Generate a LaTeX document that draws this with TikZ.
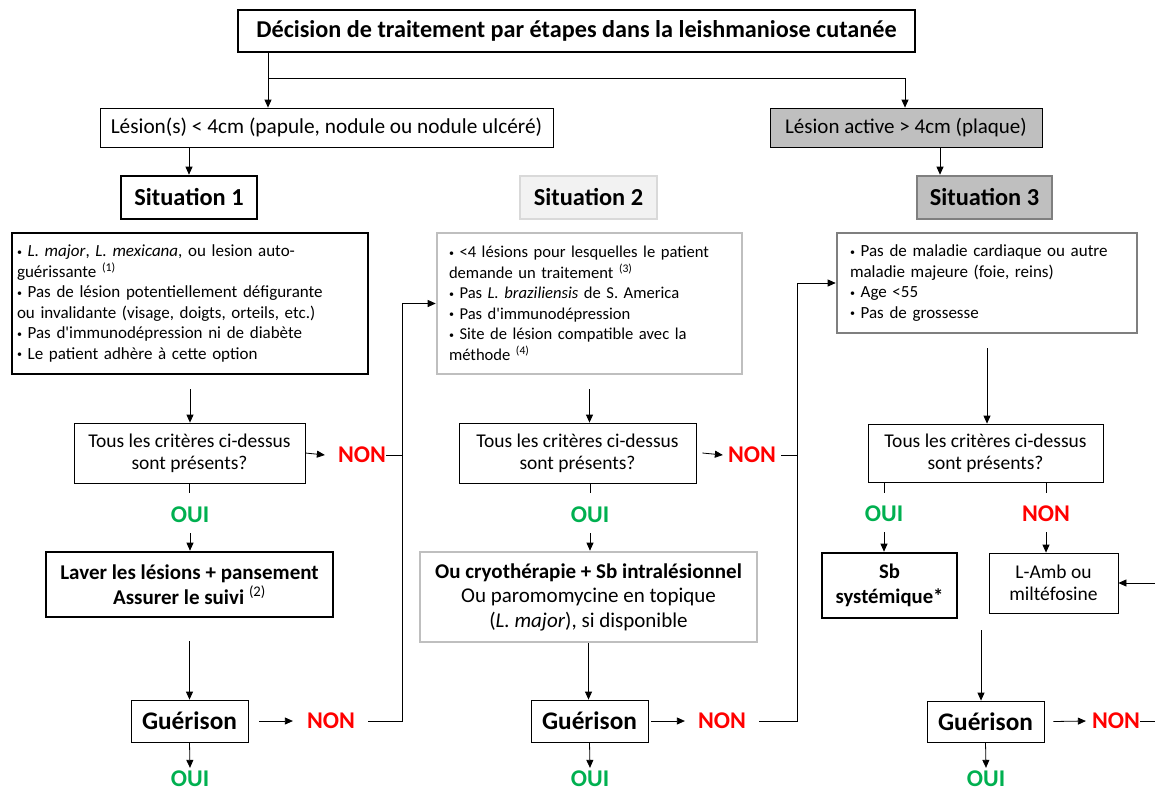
\documentclass[tikz,border=0pt]{standalone}
\usepackage{fontspec}
\setmainfont{Carlito}
\usetikzlibrary{arrows.meta}
\definecolor{ouig}{RGB}{0,176,80}
\definecolor{nonr}{RGB}{255,0,0}
\definecolor{gA}{RGB}{191,191,191}
\definecolor{gB}{RGB}{127,127,127}
\definecolor{gC}{RGB}{217,217,217}
\definecolor{gD}{RGB}{242,242,242}
\newcommand\fsz[2]{\fontsize{#1}{#2}\selectfont}
\newcommand\bul{{\fsz{10}{10}\raisebox{0.15em}{•}}\ }
\newcommand\sups[1]{\textsuperscript{\mdseries (#1)}}
\newcommand\ap{\textquotesingle}
\begin{document}
\begin{tikzpicture}[x=1pt,y=-1pt,
  arr/.style={-{Triangle[length=8pt,width=7pt]}, line width=0.8pt},
  ln/.style={line width=0.8pt},
  box/.style={draw, line width=0.8pt, inner sep=0pt, align=center},
  heavy/.style={line width=2.6pt},
  crit/.style={box, align=left, font=\fsz{17}{20.5}},
  dec/.style={box, font=\fsz{19.5}{22}},
  trt/.style={box, heavy, font=\fsz{21}{24.5}},
  gue/.style={box, font=\bfseries\fsz{25.3}{26}},
  sit/.style={box, heavy, font=\bfseries\fsz{24.4}{26}},
  oui/.style={inner sep=0pt, text=ouig, font=\bfseries\fsz{24}{26}},
  non/.style={inner sep=0pt, text=nonr, font=\bfseries\fsz{24}{26}}]
\useasboundingbox (0,0) rectangle (1155,792);
\fill[white] (0,0) rectangle (1155,792);

% top
\node[box, heavy, minimum width=677pt, minimum height=42pt, font=\bfseries\fsz{24.2}{26}] (title) at (576.5,31) {Décision de traitement par étapes dans la leishmaniose cutanée};
\node[box, minimum width=453pt, minimum height=39pt, font=\fsz{21.3}{24}] (lesA) at (326.5,127.5) {Lésion(s) < 4cm (papule, nodule ou nodule ulcéré)};
\node[box, fill=gA, minimum width=272pt, minimum height=39pt, font=\fsz{21}{24}] (lesB) at (906,127.5) {Lésion active > 4cm (plaque)};

\node[sit, minimum width=136pt, minimum height=43pt] (sit1) at (189,197.5) {Situation 1};
\node[sit, draw=gC, fill=gD, minimum width=137pt, minimum height=43pt] (sit2) at (588.5,197.5) {Situation 2};
\node[sit, draw=gB, fill=gA, minimum width=135pt, minimum height=43pt] (sit3) at (984.5,197.5) {Situation 3};

\coordinate (x268) at (268,0);
\coordinate (br) at (268,78);
\coordinate (x905) at (905,0);
\coordinate (x940) at (940,0);
\draw[arr] (title.south -| x268) -- (lesA.north -| x268);
\draw[arr] (br) -| (lesB.north -| x905);
\draw[arr] (lesA.south -| sit1.north) -- (sit1.north);
\draw[arr] (lesB.south -| x940) -- (sit3.north -| x940);

% criteria boxes
\node[crit, heavy, minimum width=356pt, minimum height=141pt, text width=346pt, inner xsep=5pt] (crit1) at (190,303.5) {\bul\textit{L. major}, \textit{L. mexicana}, ou lesion auto-\\guérissante \sups{1}\\\bul Pas de lésion potentiellement défigurante\\ou invalidante (visage, doigts, orteils, etc.)\\\bul Pas d\ap immunodépression ni de diabète\\\bul Le patient adhère à cette option};
\node[crit, heavy, draw=gA, font=\fsz{16.6}{20.5}, minimum width=305pt, minimum height=141pt, text width=281pt, inner xsep=12pt] (crit2) at (589.5,303.5) {\bul <4 lésions pour lesquelles le patient\\demande un traitement \sups{3}\\\bul Pas \textit{L. braziliensis} de S. America\\\bul Pas d\ap immunodépression\\\bul Site de lésion compatible avec la\\méthode \sups{4}};
\node[crit, heavy, draw=gB, minimum width=300pt, minimum height=100pt, text width=274pt, inner xsep=13pt] (crit3) at (987,283) {\bul Pas de maladie cardiaque ou autre\\maladie majeure (foie, reins)\\\bul Age <55\\\bul Pas de grossesse};

% decisions
\node[dec, minimum width=231pt, minimum height=60pt] (dec1) at (189.5,453) {Tous les critères ci-dessus\\sont présents?};
\node[dec, minimum width=237pt, minimum height=60pt] (dec2) at (577.5,453) {Tous les critères ci-dessus\\sont présents?};
\node[dec, minimum width=235pt, minimum height=58pt] (dec3) at (985.5,453) {Tous les critères ci-dessus\\sont présents?};

\draw[arr] ([yshift=-14pt]crit1.south) -- (crit1.south |- dec1.north);
\draw[arr] ([yshift=-14pt]crit2.south) -- (crit2.south |- dec2.north);
\draw[arr] ([yshift=-14pt]crit3.south) -- (crit3.south |- dec3.north);

% OUI / NON labels
\node[non] (non1) at (362,455) {NON};
\node[non] (non2) at (752,455) {NON};
\node[oui] (oui1) at (190,515) {OUI};
\node[oui] (oui2) at (590,515) {OUI};
\node[oui] (oui3) at (884,514) {OUI};
\node[non] (non3) at (1046,514) {NON};

% treatments
\node[trt, font=\bfseries\fsz{21}{24.5}, minimum width=287pt, minimum height=65pt] (trt1) at (189.5,584.5) {Laver les lésions + pansement\\Assurer le suivi \sups{2}};
\node[trt, draw=gA, minimum width=337pt, minimum height=90pt] (trt2) at (588.5,597) {\textbf{Ou cryothérapie + Sb intralésionnel}\\Ou paromomycine en topique\\(\textit{L. major}), si disponible};
\node[trt, font=\bfseries\fsz{20.7}{25}, minimum width=135pt, minimum height=65pt] (sb) at (889.5,585.5) {Sb\\systémique*};
\node[box, font=\fsz{19.5}{22}, minimum width=129pt, minimum height=60pt] (lamb) at (1053.5,583) {L-Amb ou\\miltéfosine};

\draw[ln] (dec1.south) -- ++(0,10);
\draw[arr] ([yshift=-10pt]oui1.south) -- (oui1 |- trt1.north);
\draw[ln] (dec2.south -| oui2) -- ++(0,10);
\draw[arr] ([yshift=-10pt]oui2.south) -- (oui2 |- trt2.north);
\draw[ln] (dec3.south -| oui3) -- ++(0,11);
\draw[arr] ([yshift=-10pt]oui3.south) -- (oui3 |- sb.north);
\draw[ln] (dec3.south -| non3) -- ++(0,11);
\draw[arr] ([yshift=-10pt]non3.south) -- (non3 |- lamb.north);

% guerison
\node[gue, minimum width=117pt, minimum height=42pt] (gue1) at (189.5,721) {Guérison};
\node[gue, minimum width=117pt, minimum height=42pt] (gue2) at (589.5,721) {Guérison};
\node[gue, minimum width=117pt, minimum height=41pt] (gue3) at (985.5,721.5) {Guérison};

\draw[arr] ([yshift=-23pt]trt1.south) -- (gue1.north);
\draw[arr] (trt2.south) -- (trt2.south |- gue2.north);
\coordinate (m3) at (981,630);
\draw[arr] (m3) -- (m3 |- gue3.north);

\node[non] (ng1) at (331,721) {NON};
\node[non] (ng2) at (722,721) {NON};
\node[non] (ng3) at (1116,721) {NON};
\node[oui] (ob1) at (190,779) {OUI};
\node[oui] (ob2) at (590,779) {OUI};
\node[oui] (ob3) at (986,779) {OUI};

\draw[arr] ([xshift=11pt]gue1.east) -- ([xshift=-14pt]ng1.west);
\draw[arr] ([xshift=3pt]gue2.east) -- ([xshift=-13pt]ng2.west);
\draw[arr] ([xshift=9pt]gue3.east) -- ([xshift=-6pt]ng3.west);
\draw[arr] (gue1.south) -- ([yshift=3pt]ob1.north);
\draw[arr] (gue2.south) -- ([yshift=3pt]ob2.north);
\draw[arr] (gue3.south) -- ([yshift=3pt]ob3.north);

% decision NON arrows
\draw[arr] (dec1.east) -- ([xshift=-13pt]non1.west);
\draw[arr] ([xshift=6pt]dec2.east) -- ([xshift=-5pt]non2.west);

% loop-back lines
\coordinate (v1) at (402,0);
\coordinate (v2) at (797,0);
\draw[ln] (non1.east) -- (non1.east -| v1);
\draw[arr] ([xshift=13pt]ng1.east) -- (ng1.east -| v1) -- (v1 |- crit2.west) -- (crit2.west);
\draw[ln] ([xshift=5pt]non2.east) -- (non2.east -| v2);
\draw[arr] ([xshift=13pt]ng2.east) -- (ng2.east -| v2) -- (v2 |- crit3.west) -- (crit3.west);

% right edge connectors
\coordinate (re1) at (1155,583);
\coordinate (re2) at (1155,721);
\draw[arr] (re1) -- (lamb.east);
\draw[ln] (ng3.east) -- (re2);
\end{tikzpicture}
\end{document}
